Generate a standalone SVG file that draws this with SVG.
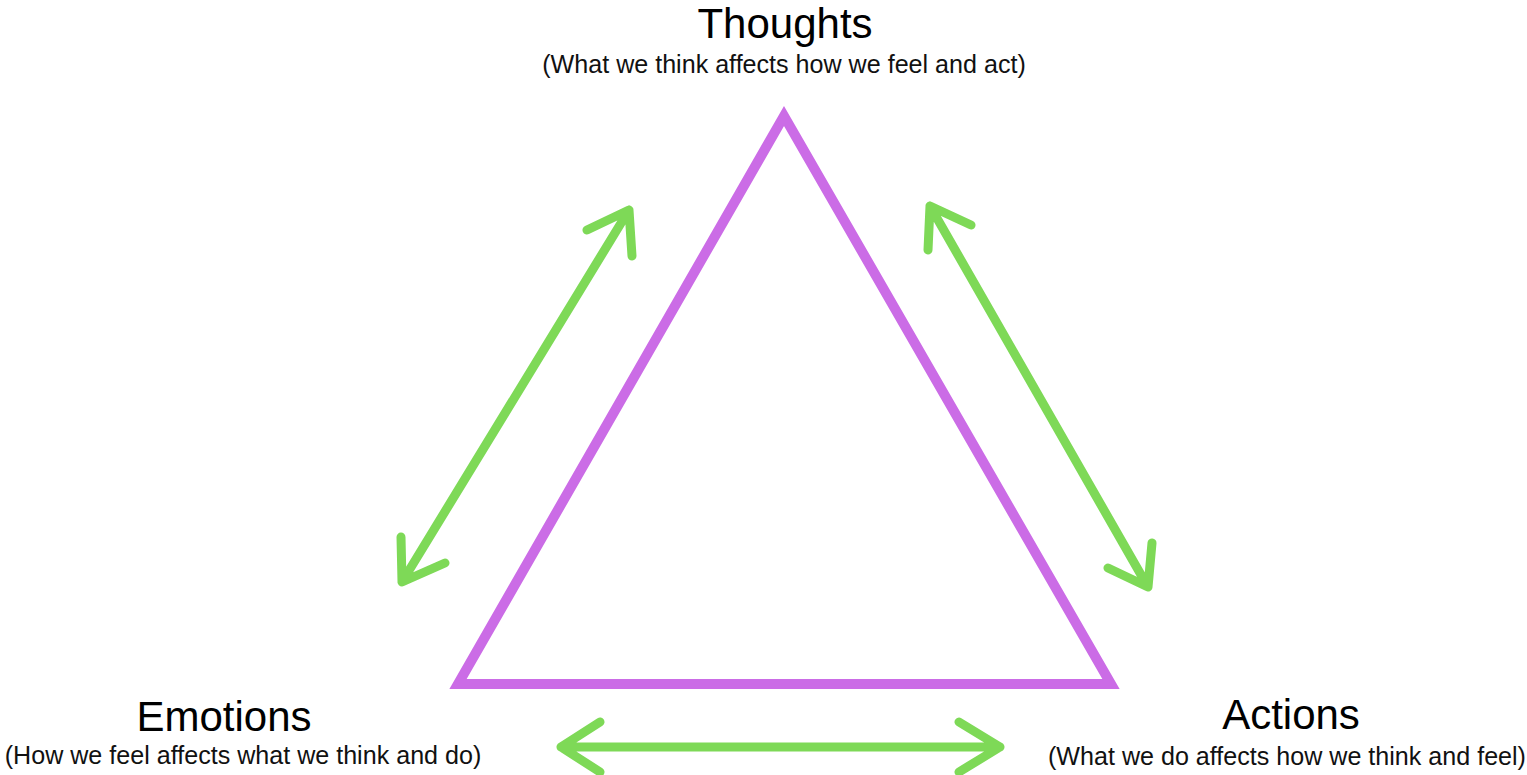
<svg xmlns="http://www.w3.org/2000/svg" width="1527" height="775" viewBox="0 0 1527 775">
<style>
.title{font-family:"Liberation Sans",Arial,sans-serif;font-size:42px;fill:#000;text-anchor:middle}
.sub{font-family:"Liberation Sans",Arial,sans-serif;font-size:25.1px;fill:#111;text-anchor:middle}
.arr{fill:none;stroke:#7ed957;stroke-width:9;stroke-linecap:round;stroke-linejoin:round}
</style>
<rect width="1527" height="775" fill="#fff"/>
<g id="triangle">
<polygon points="458,684 784,116 1111,684" fill="none" stroke="#cb6ce6" stroke-width="10" stroke-linejoin="miter"/>
</g>
<g id="thoughts">
<text class="title" x="785" y="38">Thoughts</text>
<text class="sub" x="784" y="73">(What we think affects how we feel and act)</text>
</g>
<g id="emotions">
<text class="title" x="224" y="731">Emotions</text>
<text class="sub" x="243" y="764">(How we feel affects what we think and do)</text>
</g>
<g id="actions">
<text class="title" x="1291" y="729">Actions</text>
<text class="sub" x="1287" y="765">(What we do affects how we think and feel)</text>
</g>
<g id="connectors">
<path class="arr" d="M402,582 L629,210 M587,230 L629,210 L632,256 M401,537 L402,582 L445,563"/>
<path class="arr" d="M930,206 L1148,587 M971,225 L930,206 L928,250 M1152,543 L1148,587 L1108,568"/>
<path class="arr" d="M561,747 L1000,747 M600,722 L561,747 L600,772 M959,722 L1000,747 L959,772"/>
</g>
</svg>
